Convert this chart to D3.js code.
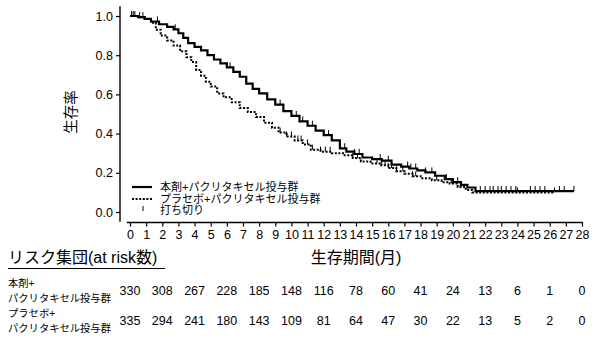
<!DOCTYPE html>
<html>
<head>
<meta charset="utf-8">
<script src="https://cdn.jsdelivr.net/npm/d3@7"></script>
<style>
  html, body { margin: 0; padding: 0; background: #fff; }
  svg text { font-family: "Liberation Sans", Arial, "Noto Sans CJK JP", sans-serif; fill: #000; }
</style>
</head>
<body>
<svg id="chart" width="600" height="339"></svg>
<script>
// Kaplan–Meier estimates (months, survival probability)
const armATimes = [0, 0.5, 0.9, 1.3, 1.8, 2.3, 2.7, 3.0, 3.3, 3.6, 4.0, 4.4, 4.8, 5.2, 5.6, 6.0, 6.4, 6.8, 7.2, 7.6, 8.0, 8.5, 9.0, 9.5, 10.0, 10.5, 11.0, 11.5, 12.0, 12.5, 13.0, 13.4, 13.9, 14.4, 15.0, 15.6, 16.2, 16.8, 17.3, 17.8, 18.3, 18.9, 19.5, 20.0, 20.5, 20.9, 21.4, 27.5];
const armASurv  = [1.0, 0.994, 0.985, 0.972, 0.958, 0.945, 0.932, 0.912, 0.888, 0.862, 0.842, 0.825, 0.800, 0.778, 0.758, 0.738, 0.715, 0.690, 0.655, 0.628, 0.605, 0.575, 0.548, 0.515, 0.490, 0.462, 0.440, 0.415, 0.392, 0.365, 0.325, 0.308, 0.296, 0.278, 0.270, 0.262, 0.242, 0.232, 0.222, 0.212, 0.202, 0.185, 0.168, 0.152, 0.138, 0.125, 0.107, 0.107];
const armACensor = [0.1, 0.3, 0.8, 1.7, 2.8, 4.8, 6.2, 9.0, 9.3, 10.3, 10.7, 11.0, 11.3, 12.0, 12.3, 13.3, 13.9, 14.2, 15.5, 16.0, 17.2, 17.4, 17.7, 18.3, 18.7, 19.6, 20.3, 21.7, 22.0, 22.3, 22.5, 22.8, 23.0, 23.3, 23.6, 23.9, 24.8, 25.1, 25.4, 25.7, 26.6, 26.9, 27.5];

const armBTimes = [0, 0.5, 0.9, 1.3, 1.6, 1.9, 2.3, 2.7, 3.1, 3.5, 3.8, 4.1, 4.4, 4.7, 5.0, 5.4, 5.8, 6.3, 6.8, 7.3, 7.8, 8.3, 8.8, 9.2, 9.7, 10.2, 10.7, 11.2, 11.8, 12.5, 13.2, 13.8, 14.3, 14.9, 15.5, 16.0, 16.5, 17.0, 17.5, 18.1, 18.7, 19.3, 19.8, 20.3, 20.8, 21.2, 26.3];
const armBSurv  = [1.0, 0.994, 0.985, 0.965, 0.930, 0.900, 0.875, 0.850, 0.820, 0.790, 0.765, 0.725, 0.695, 0.665, 0.640, 0.605, 0.585, 0.560, 0.530, 0.510, 0.485, 0.455, 0.430, 0.405, 0.385, 0.365, 0.345, 0.318, 0.308, 0.300, 0.290, 0.275, 0.258, 0.248, 0.238, 0.225, 0.208, 0.195, 0.182, 0.172, 0.162, 0.152, 0.145, 0.128, 0.112, 0.100, 0.100];
const armBCensor = [0.2, 0.6, 9.3, 9.7, 10.0, 10.4, 10.6, 11.0, 11.3, 11.8, 12.1, 12.4, 13.8, 14.1, 15.3, 15.6, 15.8, 16.0, 16.2, 16.5, 16.9, 17.5, 17.7, 19.0, 19.9, 20.5, 24.0, 26.3];

const xTicks = d3.range(0, 29);
const yTicks = [0.0, 0.2, 0.4, 0.6, 0.8, 1.0];

// Numbers at risk every two months
const riskMonths = [0, 2, 4, 6, 8, 10, 12, 14, 16, 18, 20, 22, 24, 26, 28];
const riskA = [330, 308, 267, 228, 185, 148, 116, 78, 60, 41, 24, 13, 6, 1, 0];
const riskB = [335, 294, 241, 180, 143, 109, 81, 64, 47, 30, 22, 13, 5, 2, 0];

const labelA = ["本剤+", "パクリタキセル投与群"];
const labelB = ["プラセボ+", "パクリタキセル投与群"];
const legendA = "本剤+パクリタキセル投与群";
const legendB = "プラセボ+パクリタキセル投与群";
const legendC = "打ち切り";

const svg = d3.select("#chart");

const x = d3.scaleLinear().domain([0, 28]).range([130, 582]);
const y = d3.scaleLinear().domain([-0.05, 1.05]).range([221.8, 6.2]);

// Y axis
const yAxis = svg.append("g").attr("transform", "translate(120,0)")
  .call(d3.axisLeft(y).tickValues(yTicks).tickFormat(d3.format(".1f")).tickSize(4).tickPadding(3));
yAxis.select(".domain").attr("d", `M0,${y(1.05)}V${y(-0.05)}`).attr("stroke-width", 1.4);
yAxis.selectAll(".tick line").attr("stroke-width", 1.2);
yAxis.selectAll("text").attr("font-size", 12.5);

// X axis
const xAxis = svg.append("g").attr("transform", "translate(0,222.5)")
  .call(d3.axisBottom(x).tickValues(xTicks).tickFormat(d3.format("d")).tickSize(4).tickPadding(4));
xAxis.select(".domain").attr("d", `M${x(-0.2)},0H${x(28.05)}`).attr("stroke-width", 1.4);
xAxis.selectAll(".tick line").attr("stroke-width", 1.2);
xAxis.selectAll("text").attr("font-size", 12.5);

// Axis titles
svg.append("text")
  .attr("transform", "translate(71,112) rotate(-90)")
  .attr("text-anchor", "middle").attr("dy", "0.35em").attr("font-size", 14.5)
  .text("生存率");

// Survival curves
const stepLine = d3.line().x(d => x(d[0])).y(d => y(d[1])).curve(d3.curveStepAfter);
const ptsA = armATimes.map((t, i) => [t, armASurv[i]]);
const ptsB = armBTimes.map((t, i) => [t, armBSurv[i]]);

svg.append("path").datum(ptsB).attr("d", stepLine)
  .attr("fill", "none").attr("stroke", "#000").attr("stroke-width", 2)
  .attr("stroke-dasharray", "2,1.6");
svg.append("path").datum(ptsA).attr("d", stepLine)
  .attr("fill", "none").attr("stroke", "#000").attr("stroke-width", 2.2);

// Censoring marks drawn on the step function
function survAt(times, surv, t) {
  let s = surv[0];
  for (let i = 0; i < times.length; i++) { if (times[i] <= t) s = surv[i]; }
  return s;
}
function drawCensor(list, times, surv) {
  svg.append("g").selectAll("line").data(list).join("line")
    .attr("x1", d => x(d)).attr("x2", d => x(d))
    .attr("y1", d => y(survAt(times, surv, d)))
    .attr("y2", d => y(survAt(times, surv, d)) - 5)
    .attr("stroke", "#000").attr("stroke-width", 1);
}
drawCensor(armBCensor, armBTimes, armBSurv);
drawCensor(armACensor, armATimes, armASurv);

// Legend
const lg = svg.append("g");
lg.append("line").attr("x1", 132).attr("x2", 152).attr("y1", 187).attr("y2", 187)
  .attr("stroke", "#000").attr("stroke-width", 2.2);
lg.append("line").attr("x1", 132).attr("x2", 152).attr("y1", 199).attr("y2", 199)
  .attr("stroke", "#000").attr("stroke-width", 2).attr("stroke-dasharray", "2,1.6");
lg.append("line").attr("x1", 143).attr("x2", 143).attr("y1", 206).attr("y2", 211)
  .attr("stroke", "#000").attr("stroke-width", 1);
[[legendA, 187], [legendB, 199], [legendC, 210]].forEach(([t, yy]) => {
  lg.append("text").attr("x", 160).attr("y", yy).attr("dy", "0.35em")
    .attr("font-size", 11).text(t);
});

// Risk table
svg.append("text").attr("x", 8).attr("y", 263).attr("font-size", 16)
  .text("リスク集団(at risk数)");
svg.append("line").attr("x1", 8).attr("x2", 165).attr("y1", 268.5).attr("y2", 268.5)
  .attr("stroke", "#000").attr("stroke-width", 1);
svg.append("text").attr("x", 356).attr("y", 263).attr("font-size", 16)
  .attr("text-anchor", "middle")
  .text("生存期間(月)");

function riskRow(values, label, yc) {
  svg.append("text").attr("x", 8).attr("y", yc - 7.5).attr("dy", "0.35em")
    .attr("font-size", 10.3).text(label[0]);
  svg.append("text").attr("x", 8).attr("y", yc + 7).attr("dy", "0.35em")
    .attr("font-size", 10.3).text(label[1]);
  svg.append("g").selectAll("text").data(values).join("text")
    .attr("x", (d, i) => x(riskMonths[i])).attr("y", yc).attr("dy", "0.35em")
    .attr("text-anchor", "middle").attr("font-size", 12.5)
    .text(d => d);
}
riskRow(riskA, labelA, 291);
riskRow(riskB, labelB, 321);
</script>
</body>
</html>
